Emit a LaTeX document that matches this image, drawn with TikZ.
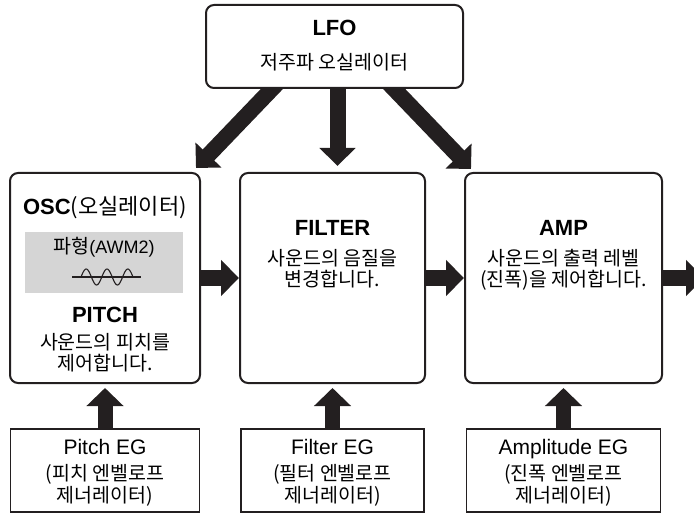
\documentclass[tikz,border=0pt]{standalone}
\usepackage{fontspec}
\setmainfont{Liberation Sans}
\newfontfamily\kr{Noto Sans CJK KR}
\usetikzlibrary{arrows.meta,calc,backgrounds}
\definecolor{ink}{HTML}{231F20}
\definecolor{panel}{HTML}{D5D5D5}
\tikzset{
  bigbox/.style={draw=ink, fill=white, line width=2pt, rounded corners=8pt, inner sep=0pt, minimum height=210pt},
  egbox/.style={draw=ink, fill=white, line width=1.1pt, inner sep=0pt, minimum height=83pt},
  ttl/.style={anchor=base, inner sep=0pt, font=\fontsize{22pt}{26pt}\selectfont\bfseries},
  kor/.style={anchor=base, inner sep=0pt, font=\kr\fontsize{19.5pt}{22pt}\selectfont},
  lat/.style={anchor=base, inner sep=0pt, font=\fontsize{21pt}{24pt}\selectfont},
  fat/.style={draw=ink, line width=16pt, -{Triangle[width=35pt,length=18pt]}},
  upfat/.style={draw=ink, line width=15pt, -{Triangle[width=36pt,length=18pt]}},
}
\begin{document}
\begin{tikzpicture}[x=1pt,y=-1pt]
\useasboundingbox (0,0) rectangle (694,513);
\clip (0,0) rectangle (694,513);
% main boxes
\node[bigbox, minimum width=257pt, minimum height=83pt] (lfo) at (334.5,46.5) {};
\node[bigbox, minimum width=190pt] (osc) at (105,278) {};
\node[bigbox, minimum width=185pt] (filt) at (332.5,278) {};
\node[bigbox, minimum width=197pt] (amp) at (563.5,278) {};
% LFO arrows, behind the boxes so the LFO box cuts the shafts
\begin{pgfonlayer}{background}
\draw[fat] ($(lfo.south)+(-55,-8)$) -- ($(osc.north east)+(-5,-4)$);
\draw[fat] ($(lfo.south)+(3,-8)$) -- ($(filt.north)+(5,-6)$);
\draw[fat] ($(lfo.south)+(52,-8)$) -- ($(amp.north west)+(7,-3)$);
\end{pgfonlayer}
\node[ttl] (lfot) at (334.5,36) {LFO};
\node[kor] (lfok) at (334.5,70) {저주파 오실레이터};

% horizontal arrows
\draw[fat] (osc.east) -- (filt.west);
\draw[fat] (filt.east) -- (amp.west);
\coordinate (out) at ($(amp.east)+(41,0)$);
\draw[fat] (amp.east) -- (out);

% OSC contents
\node[ttl] (osct) at (105,215) {OSC{\mdseries\kr (오실레이터)}};
\node[fill=panel, minimum width=158pt, minimum height=61pt, inner sep=0pt] (wave) at (104,262.5) {};
\node[kor] (wavet) at (104,254) {파형{\fontspec{Liberation Sans}\fontsize{18pt}{20pt}\selectfont(AWM2)}};
\draw[ink, line width=1.1pt] (72,277) -- (141,277);
\draw[ink, line width=1.1pt] plot[smooth, domain=0:5, samples=61] ({81+\x*10.4},{277-8*sin(\x*180)});
\node[ttl] (pitch) at (105,323) {PITCH};
\node[kor] (osc1) at (105,349) {사운드의 피치를};
\node[kor] (osc2) at (105,370.5) {제어합니다.};

% FILTER contents
\node[ttl] (filtt) at (332.5,236) {FILTER};
\node[kor] (filt1) at (332.5,265.5) {사운드의 음질을};
\node[kor] (filt2) at (332.5,287) {변경합니다.};

% AMP contents
\node[ttl] (ampt) at (563.5,236) {AMP};
\node[kor] (amp1) at (563.5,265.5) {사운드의 출력 레벨};
\node[kor] (amp2) at (563.5,287) {(진폭)을 제어합니다.};

% EG boxes
\node[egbox, minimum width=189pt] (peg) at (105,470.5) {};
\node[egbox, minimum width=183pt] (feg) at (332.5,470.5) {};
\node[egbox, minimum width=194pt] (aeg) at (563.5,470.5) {};
\draw[upfat] (peg.north) -- ($(osc.south)+(0,4)$);
\draw[upfat] (feg.north) -- ($(filt.south)+(0,4)$);
\draw[upfat] (aeg.north) -- ($(amp.south)+(0,4)$);

\node[lat] (peg1) at (105,454.5) {Pitch EG};
\node[kor] (peg2) at (105,480) {(피치 엔벨로프};
\node[kor] (peg3) at (105,502) {제너레이터)};
\node[lat] (feg1) at (332.5,454.5) {Filter EG};
\node[kor] (feg2) at (332.5,480) {(필터 엔벨로프};
\node[kor] (feg3) at (332.5,502) {제너레이터)};
\node[lat] (aeg1) at (563.5,454.5) {Amplitude EG};
\node[kor] (aeg2) at (563.5,480) {(진폭 엔벨로프};
\node[kor] (aeg3) at (563.5,502) {제너레이터)};
\end{tikzpicture}
\end{document}
